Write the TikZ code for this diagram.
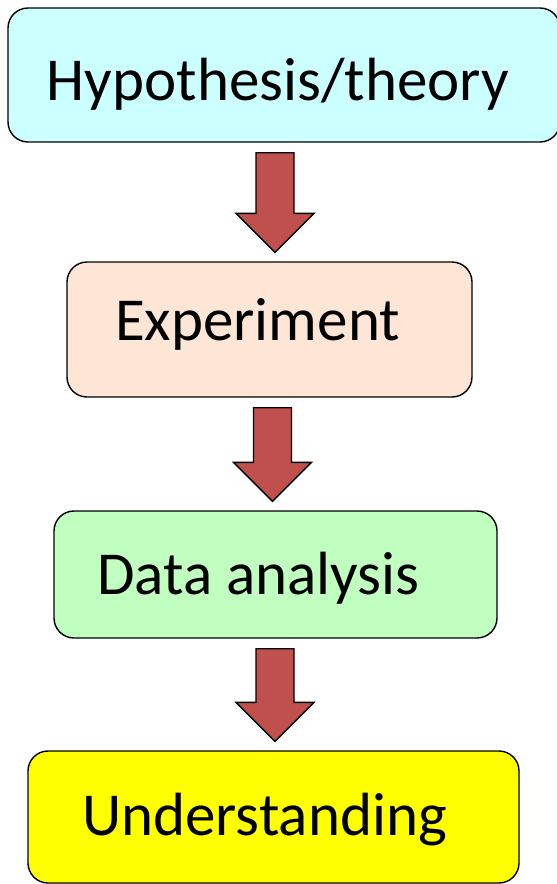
\documentclass[tikz,border=0pt]{standalone}
\usepackage{fontspec}
\setmainfont{Carlito}
\usetikzlibrary{calc}

\definecolor{hypcyan}{RGB}{204,255,255}
\definecolor{exppeach}{RGB}{253,230,214}
\definecolor{datagreen}{RGB}{192,255,192}
\definecolor{undyellow}{RGB}{255,255,0}
\definecolor{arrowred}{RGB}{192,80,77}

\tikzset{
  stage/.style={draw=black, line width=1.4pt, rounded corners=20pt, inner sep=0pt,
    font=\fontsize{61}{70}\selectfont, text height=44pt, text depth=4pt},
  blockarrow/.style={draw=black, line width=1.4pt, fill=arrowred, line join=miter},
}

% fat down arrow from one stage to the next, #3 = x of its axis
\newcommand{\flowarrow}[3]{%
  \draw[blockarrow] let \p1=(#1.south), \p2=(#2.north) in
    ({#3pt-19pt},{\y1-10pt}) -- ({#3pt+19pt},{\y1-10pt})
    -- ({#3pt+19pt},{\y2+48pt}) -- ({#3pt+39pt},{\y2+48pt})
    -- ({#3pt},{\y2+9pt})
    -- ({#3pt-39pt},{\y2+48pt}) -- ({#3pt-19pt},{\y2+48pt}) -- cycle;
}

\begin{document}
\begin{tikzpicture}[x=1pt, y=-1pt]
\useasboundingbox (0,0) rectangle (557,884);

% the four stages
\node[stage, fill=hypcyan, minimum width=552pt, minimum height=134pt,
  text height=50pt, text depth=0pt] (hyp) at (284,75) {Hypothesis/theory\hspace*{12pt}};
\node[stage, fill=exppeach, minimum width=405pt, minimum height=135pt,
  text depth=23pt] (exp) at (269.5,329.5) {Experiment\hspace*{24pt}};
\node[stage, fill=datagreen, minimum width=443pt, minimum height=127pt]
  (data) at (275.5,574.5) {Data analysis\hspace*{34pt}};
\node[stage, fill=undyellow, minimum width=491pt, minimum height=132pt,
  text depth=8pt] (und) at (273.5,817) {Understanding\hspace*{18pt}};

% arrows between them
\flowarrow{hyp}{exp}{275}
\flowarrow{exp}{data}{272.5}
\flowarrow{data}{und}{275}
\end{tikzpicture}
\end{document}
